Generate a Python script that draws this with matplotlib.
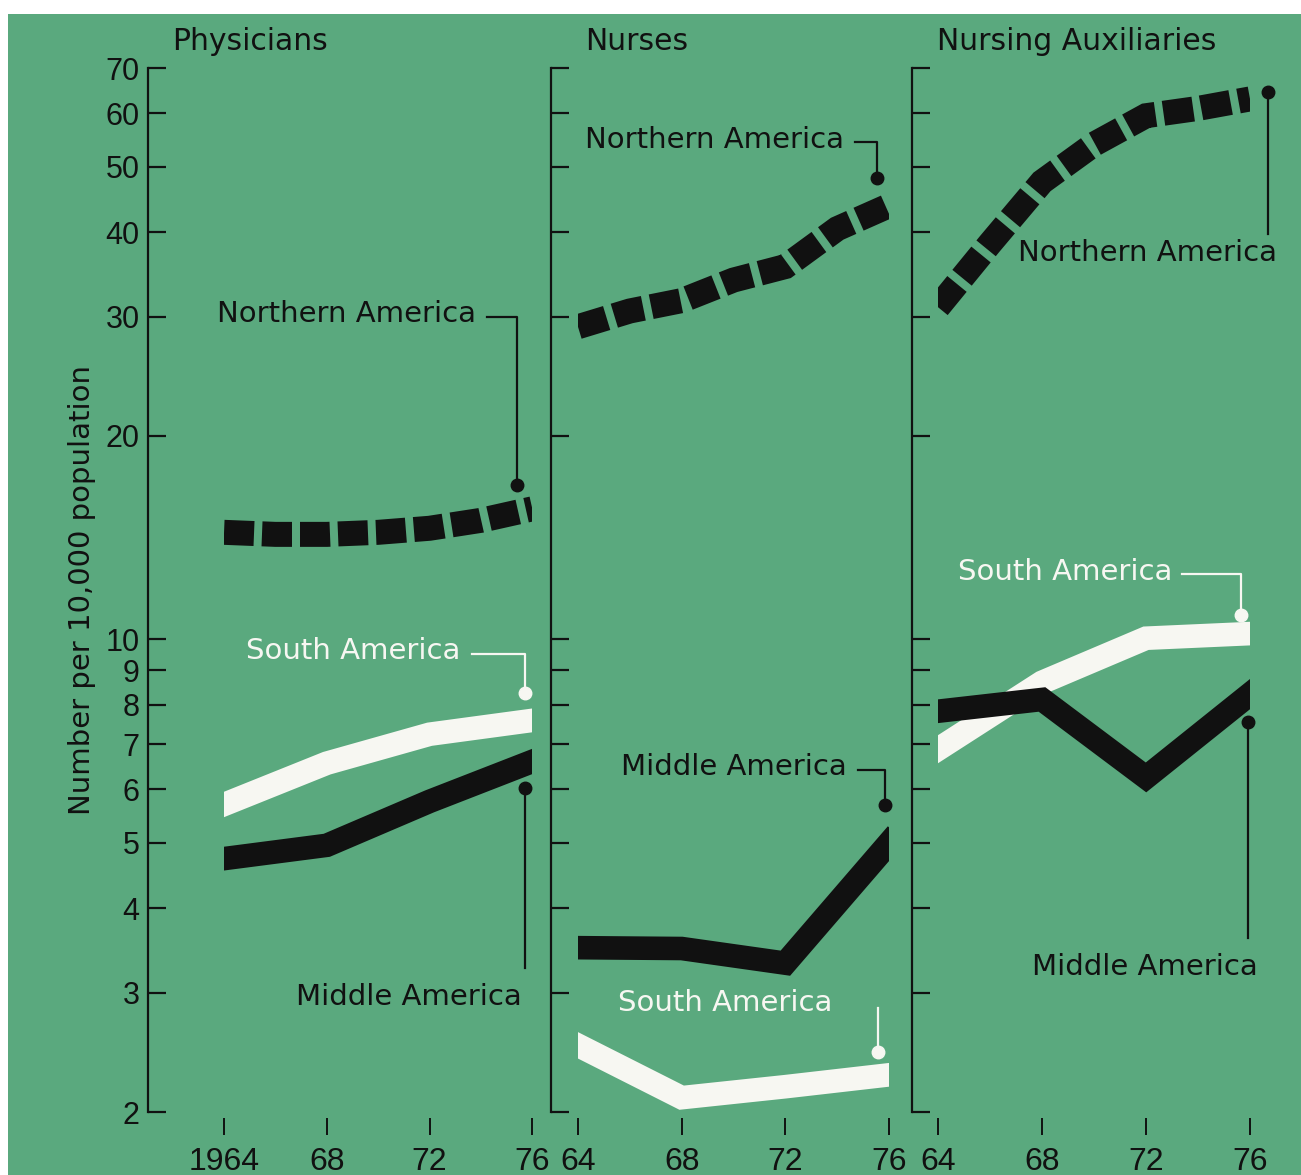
import matplotlib
matplotlib.use("Agg")
import matplotlib.pyplot as plt
import matplotlib.ticker as ticker
from matplotlib.patches import Rectangle
from matplotlib.transforms import blended_transform_factory


# data (number per 10,000 population)
years = [1964, 1968, 1972, 1976]
years_fine = [1964, 1966, 1968, 1970, 1972, 1974, 1976]

phys_north = [14.4, 14.3, 14.3, 14.4, 14.6, 15.0, 15.6]
phys_south = [5.70, 6.56, 7.24, 7.59]
phys_middle = [4.74, 4.96, 5.76, 6.60]

nurse_north = [29.0, 30.6, 31.7, 34.0, 35.6, 40.5, 43.8]
nurse_middle = [3.50, 3.49, 3.32, 5.00]
nurse_south = [2.51, 2.10, 2.18, 2.27]

aux_north = [31.0, 38.5, 47.5, 54.0, 59.5, 61.0, 63.0]
aux_south = [6.88, 8.64, 10.04, 10.2]
aux_middle = [7.83, 8.15, 6.25, 8.30]

titles = ['Physicians', 'Nurses', 'Nursing Auxiliaries']
ytick_vals = [2, 3, 4, 5, 6, 7, 8, 9, 10, 20, 30, 40, 50, 60, 70]
xtick_labels_first = ['1964', '68', '72', '76']
xtick_labels_other = ['64', '68', '72', '76']

GREEN = '#5aa97e'
BLACK = '#111111'
WHITE = '#f7f7f2'
W, H = 1301, 1175
LW = 17

fig = plt.figure(figsize=(W / 100, H / 100), dpi=100, facecolor='white')
fig.patches.append(Rectangle((8 / W, 0), 1, 1 - 14 / H, transform=fig.transFigure,
                             facecolor=GREEN, edgecolor='none', zorder=-10))

bottom = 63 / H
height = 1044 / H
# left pixel, pixel width, xlim
panels = [
    (148, 410, (1961.04, 1977.0)),
    (551, 364, (1962.96, 1977.0)),
    (912, 390, (1963.0, 1978.0)),
]

axes = []
for i, (left, width, xl) in enumerate(panels):
    ax = fig.add_axes([left / W, bottom, width / W, height])
    ax.set_facecolor('none')
    ax.set_yscale('log')
    ax.set_ylim(2, 70)
    ax.set_xlim(*xl)
    for s in ['top', 'right']:
        ax.spines[s].set_visible(False)
    ax.spines['left'].set_linewidth(1.6)
    ax.spines['left'].set_color(BLACK)
    ax.spines['bottom'].set_position(('outward', 4))
    ax.spines['bottom'].set_visible(False)
    ax.yaxis.set_major_locator(ticker.FixedLocator(ytick_vals))
    ax.yaxis.set_minor_locator(ticker.NullLocator())
    ax.tick_params(axis='y', direction='in', length=13, width=1.6, color=BLACK, pad=6)
    if i == 0:
        ax.set_yticklabels([str(v) for v in ytick_vals], fontsize=22,
                           family='Liberation Sans', color=BLACK)
    else:
        ax.set_yticklabels([])
    ax.set_xticks(years)
    ax.set_xticklabels(xtick_labels_first if i == 0 else xtick_labels_other,
                       fontsize=23, family='Liberation Sans', color=BLACK)
    ax.tick_params(axis='x', direction='out', length=12, width=1.4, color=BLACK, pad=9)
    axes.append(ax)


def band(ax, x, y, color, dashed=False):
    if dashed:
        line, = ax.plot(x, y, color=color, lw=LW + 1, linestyle=(0, (1.2, 0.32)),
                        dash_capstyle='butt', dash_joinstyle='miter')
    else:
        line, = ax.plot(x, y, color=color, lw=LW, solid_capstyle='projecting',
                        solid_joinstyle='miter')
    clip = Rectangle((x[0], 0), x[-1] - x[0], 1,
                     transform=blended_transform_factory(ax.transData, ax.transAxes))
    line.set_clip_path(clip)


def leader(ax, pts, text, tx, ty, color):
    xs = [p[0] for p in pts]
    ys = [p[1] for p in pts]
    ax.plot(xs, ys, color=color, lw=1.6, clip_on=False)
    ax.plot(xs[-1], ys[-1], 'o', color=color, ms=9, clip_on=False)
    ax.text(tx, ty, text, color=color, fontsize=21, ha='right', va='center')


ax1, ax2, ax3 = axes

band(ax1, years_fine, phys_north, BLACK, dashed=True)
band(ax1, years, phys_south, WHITE)
band(ax1, years, phys_middle, BLACK)
leader(ax1, [(1974.25, 30.0), (1975.41, 30.0), (1975.41, 16.9)], 'Northern America', 1973.8, 30.3, BLACK)
leader(ax1, [(1973.66, 9.51), (1975.73, 9.51), (1975.73, 8.32)], 'South America', 1973.2, 9.62, WHITE)
leader(ax1, [(1975.73, 3.27), (1975.73, 6.02)], 'Middle America', 1975.6, 2.96, BLACK)

band(ax2, years_fine, nurse_north, BLACK, dashed=True)
band(ax2, years, nurse_middle, BLACK)
band(ax2, years, nurse_south, WHITE)
leader(ax2, [(1974.69, 54.4), (1975.54, 54.4), (1975.54, 48.1)], 'Northern America', 1974.25, 54.8, BLACK)
leader(ax2, [(1974.81, 6.40), (1975.85, 6.40), (1975.85, 5.68)], 'Middle America', 1974.35, 6.48, BLACK)
leader(ax2, [(1975.58, 2.85), (1975.58, 2.45)], 'South America', 1973.8, 2.90, WHITE)

band(ax3, years_fine, aux_north, BLACK, dashed=True)
band(ax3, years, aux_south, WHITE)
band(ax3, years, aux_middle, BLACK)
leader(ax3, [(1976.69, 39.8), (1976.69, 64.4)], 'Northern America', 1977.05, 37.3, BLACK)
leader(ax3, [(1973.38, 12.5), (1975.65, 12.5), (1975.65, 10.86)], 'South America', 1973.0, 12.6, WHITE)
leader(ax3, [(1975.92, 3.62), (1975.92, 7.56)], 'Middle America', 1976.3, 3.28, BLACK)

title_x = [172, 585, 937]
for t, px in zip(titles, title_x):
    fig.text(px / W, 1 - 42 / H, t, fontsize=21.5, color=BLACK, ha='left', va='center')

fig.text(82 / W, 1 - 590 / H, 'Number per 10,000 population', rotation=90,
         fontsize=21, color=BLACK, ha='center', va='center')

fig.savefig('out.png', dpi=100, facecolor='white')
